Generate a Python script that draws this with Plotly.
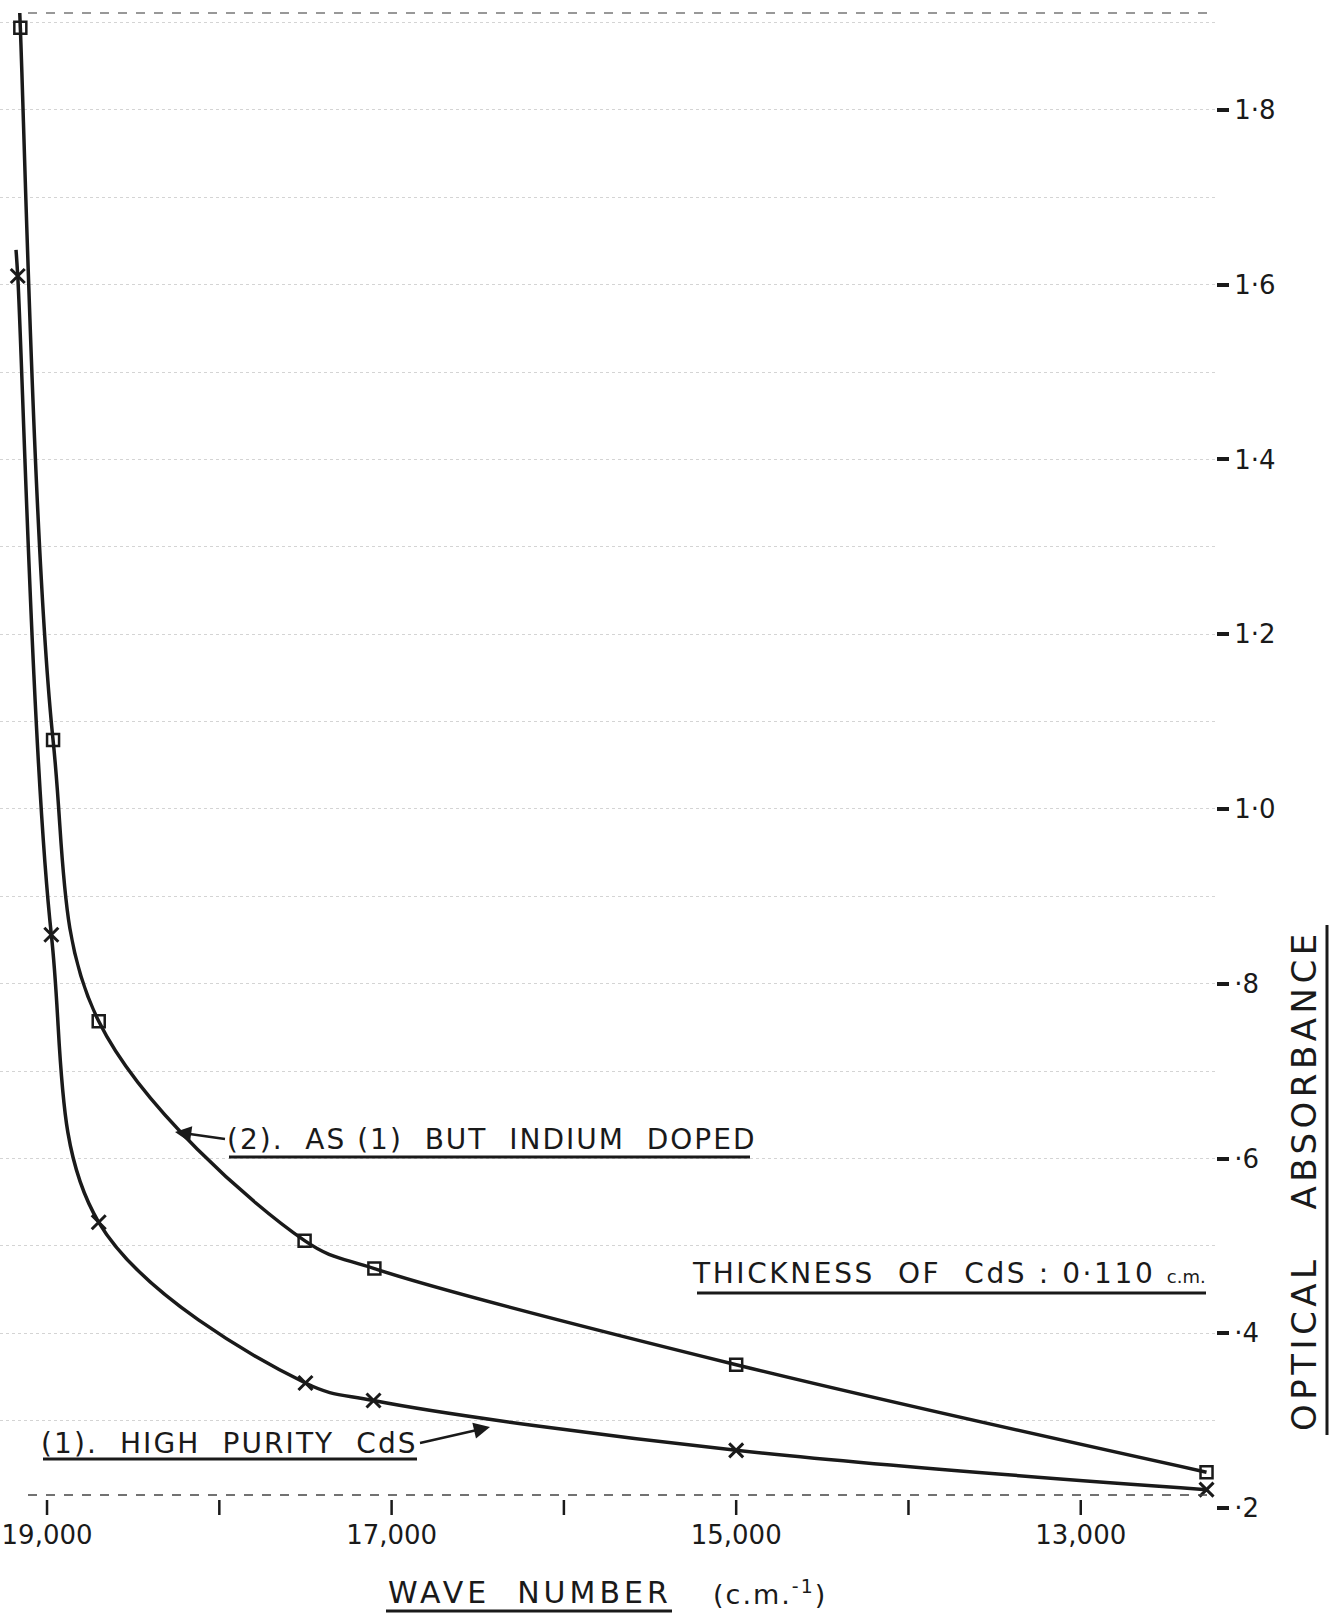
import plotly.graph_objects as go

# ---------------- data ----------------
wave_pure = [19170, 18975, 18700, 17500, 17105, 15000, 12270]
abs_pure = [1.610, 0.856, 0.527, 0.343, 0.323, 0.266, 0.221]

wave_doped = [19155, 18965, 18700, 17505, 17100, 15000, 12270]
abs_doped = [1.894, 1.079, 0.757, 0.506, 0.474, 0.364, 0.241]

# where the hand-drawn curves start (above the first plotted point)
curve_start_wave_pure = [19180]
curve_start_abs_pure = [1.64]
curve_start_wave_doped = [19162]
curve_start_abs_doped = [1.93]

x_tick_marks = [19000, 18000, 17000, 16000, 15000, 14000, 13000]
x_label_vals = [19000, 17000, 15000, 13000]
x_label_text = ["19,000", "17,000", "15,000", "13,000"]
y_tick_vals = [0.2, 0.4, 0.6, 0.8, 1.0, 1.2, 1.4, 1.6, 1.8]
y_tick_text = ["·2", "·4", "·6", "·8", "1·0", "1·2", "1·4", "1·6", "1·8"]

# ---------------- layout geometry (pixels) ----------------
W, H = 1342, 1616
PX0, PX1, PY0, PY1 = 0, 1216, 13, 1508
FONT = "DejaVu Sans"
INK = "#1a1a1a"
GRID = "#d4d4d4"


def px(x):
    return (x - PX0) / (PX1 - PX0)


def py(y):
    return (PY1 - y) / (PY1 - PY0)


def spaced(text, ls):
    return f"<span style='letter-spacing:{ls}px'>{text}</span>"


fig = go.Figure()

fig.add_trace(go.Scatter(
    x=curve_start_wave_doped + wave_doped, y=curve_start_abs_doped + abs_doped,
    mode="lines", line=dict(color=INK, width=3.5, shape="spline", smoothing=1.0),
    showlegend=False, hoverinfo="skip"))
fig.add_trace(go.Scatter(
    x=curve_start_wave_pure + wave_pure, y=curve_start_abs_pure + abs_pure,
    mode="lines", line=dict(color=INK, width=3.5, shape="spline", smoothing=1.0),
    showlegend=False, hoverinfo="skip"))
fig.add_trace(go.Scatter(
    x=wave_doped, y=abs_doped, mode="markers", name="(2) Indium doped",
    marker=dict(symbol="square-open", size=12, color=INK, line=dict(width=2.5, color=INK)),
    showlegend=False, cliponaxis=False))
fig.add_trace(go.Scatter(
    x=wave_pure, y=abs_pure, mode="markers", name="(1) High purity CdS",
    marker=dict(symbol="x-thin-open", size=14, color=INK, line=dict(width=3, color=INK)),
    showlegend=False, cliponaxis=False))

shapes = []
# dashed top and bottom frame lines
for yy, col in ((PY0, "#777"), (1495, "#444")):
    shapes.append(dict(type="line", xref="paper", yref="paper",
                       x0=px(28), x1=px(1212), y0=py(yy), y1=py(yy),
                       line=dict(color=col, width=1.5, dash="dash")))
# x tick marks every 1000 (placed on the x axis scale)
for v in x_tick_marks:
    shapes.append(dict(type="line", xref="x", yref="paper", x0=v, x1=v,
                       y0=py(1500), y1=py(1515), line=dict(color=INK, width=2.5)))
# underlines
underlines = [
    (229, 750, 1157),   # (2) annotation
    (43, 417, 1459),    # (1) annotation
    (697, 1206, 1293),  # thickness
    (386, 672, 1611),   # x title
]
for x0, x1, yy in underlines:
    shapes.append(dict(type="line", xref="paper", yref="paper",
                       x0=px(x0), x1=px(x1), y0=py(yy), y1=py(yy),
                       line=dict(color=INK, width=3)))
# y title underline (vertical)
shapes.append(dict(type="line", xref="paper", yref="paper",
                   x0=px(1327), x1=px(1327), y0=py(925), y1=py(1435),
                   line=dict(color=INK, width=3)))

annotations = [
    # label (2) with arrow pointing left to the doped curve
    dict(text=spaced("(2).  AS (1)  BUT  INDIUM  DOPED", 2.0), x=px(175), y=py(1132),
         ax=50, ay=7, showarrow=True, xanchor="left", yanchor="middle",
         arrowhead=2, arrowsize=1.3, arrowwidth=2.5, arrowcolor=INK, font=dict(size=28)),
    # label (1) with arrow pointing right to the pure curve
    dict(text=spaced("(1).  HIGH  PURITY  CdS", 2.1), x=px(490), y=py(1427),
         ax=-70, ay=16, showarrow=True, xanchor="right", yanchor="middle",
         arrowhead=2, arrowsize=1.3, arrowwidth=2.5, arrowcolor=INK, font=dict(size=28)),
    dict(text=spaced("THICKNESS  OF  CdS : 0·110 ", 2.6) + "<span style='font-size:18px'>c.m.</span>",
         x=px(690), y=py(1273), xanchor="left", yanchor="middle", font=dict(size=28)),
    dict(text=spaced("WAVE  NUMBER", 4), x=px(386), y=py(1592),
         xanchor="left", yanchor="middle", font=dict(size=30)),
    dict(text=spaced("(c.m.<sup>-1</sup>)", 2), x=px(711), y=py(1592),
         xanchor="left", yanchor="middle", font=dict(size=27)),
    dict(text=spaced("OPTICAL   ABSORBANCE", 4.5), x=px(1304), y=py(1180), textangle=-90,
         xanchor="center", yanchor="middle", font=dict(size=34)),
]
for a in annotations:
    a.setdefault("xref", "paper")
    a.setdefault("yref", "paper")
    a.setdefault("showarrow", False)
    a["font"] = dict(family=FONT, color=INK, **a.get("font", {}))

fig.update_layout(
    width=W, height=H,
    margin=dict(l=PX0, r=W - PX1, t=PY0, b=H - PY1, pad=0),
    paper_bgcolor="white", plot_bgcolor="white",
    font=dict(family=FONT, color=INK),
    showlegend=False,
    shapes=shapes, annotations=annotations,
    xaxis=dict(range=[19273, 12215], tickmode="array",
               tickvals=x_label_vals, ticktext=x_label_text,
               ticks="", ticklabelstandoff=9,
               tickfont=dict(size=26, family=FONT, color=INK),
               showgrid=False, zeroline=False, showline=False),
    yaxis=dict(range=[0.2, 1.911], side="right", tickvals=y_tick_vals, ticktext=y_tick_text,
               ticks="outside", ticklen=12, tickwidth=3.5, tickcolor=INK,
               tickfont=dict(size=26, family=FONT, color=INK),
               showgrid=True, gridcolor=GRID, griddash="dot", gridwidth=1,
               minor=dict(dtick=0.1, tick0=0.1, showgrid=True, gridcolor=GRID,
                          griddash="dot", gridwidth=1, ticks=""),
               zeroline=False, showline=False),
)

fig.write_html("out.html")
